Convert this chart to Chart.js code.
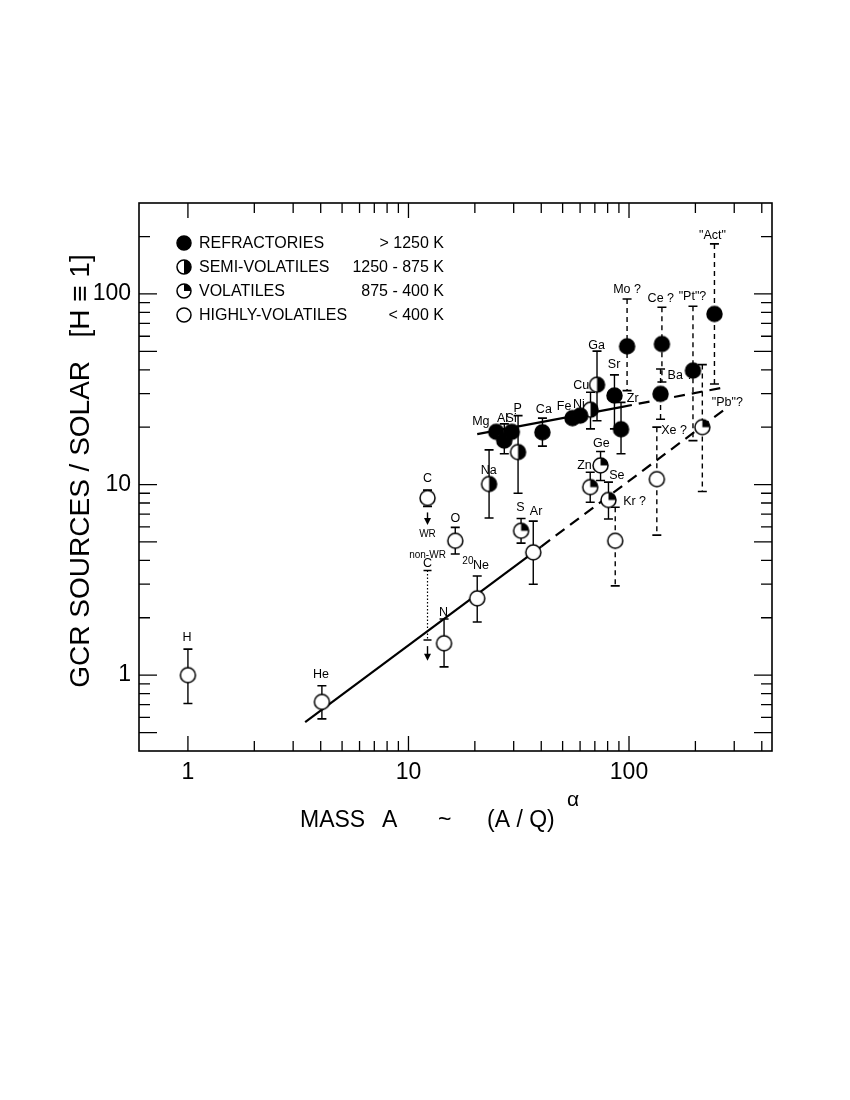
<!DOCTYPE html>
<html lang="en">
<head>
<meta charset="UTF-8">
<title>GCR sources / solar</title>
<script src="https://cdn.jsdelivr.net/npm/chart.js"></script>
<style>
  html, body { margin: 0; padding: 0; background: #fff; }
  #wrap { position: relative; width: 850px; height: 1100px; }
</style>
</head>
<body>
<div id="wrap"><canvas id="gcr" width="850" height="1100"></canvas></div>
<script>
// refractories  (> 1250 K)
const refNames = ['Mg', 'Al', 'Si', 'Ca', 'Fe', 'Ni', 'Sr', 'Zr', 'Mo', 'Ba', 'Ce', 'Pt', 'Act'];
const refA     = [25.0, 27.2, 29.4, 40.5, 55.4, 60.1, 85.9, 92, 98, 139, 141, 195, 244];
const refVal   = [18.9, 17.0, 18.9, 18.8, 22.3, 23.0, 29.3, 19.5, 53.1, 29.9, 54.6, 39.6, 78.5];
const refHi    = [null, 20.8, null, 22.3, null, null, 37.6, 27.0, 94.1, 40.4, 85.1, 86.2, 183];
const refLo    = [null, 14.5, null, 15.9, null, null, 19.6, 14.5, 31.1, 22.0, 34.5, 17.0, 33.7];

// semi-volatiles  (1250 - 875 K)
const semiNames = ['Na', 'P', 'Cu', 'Ga'];
const semiA     = [23.2, 31.4, 66.9, 71.6];
const semiVal   = [10.06, 14.8, 24.7, 33.4];
const semiHi    = [15.2, 23.0, 30.5, 50.1];
const semiLo    = [6.67, 9.0, 19.6, 21.6];

// volatiles  (875 - 400 K)
const volNames = ['S', 'Zn', 'Ge', 'Se', 'Pb'];
const volA     = [32.4, 66.7, 74.3, 80.7, 215];
const volVal   = [5.72, 9.7, 12.6, 8.3, 20.0];
const volHi    = [6.64, 11.6, 14.9, 10.3, 42.6];
const volLo    = [4.93, 8.07, 10.5, 6.6, 9.2];

// highly-volatiles  (< 400 K)
const hvNames = ['H', 'He', 'C', 'N', 'O', 'Ne', 'Ar', 'Kr', 'Xe'];
const hvA     = [1, 4.05, 12.2, 14.5, 16.3, 20.5, 36.8, 86.6, 133.7];
const hvVal   = [1, 0.724, 8.5, 1.47, 5.07, 2.53, 4.41, 5.07, 10.67];
const hvHi    = [1.37, 0.88, 9.35, 1.97, 5.96, 3.31, 6.43, 7.6, 20.0];
const hvLo    = [0.71, 0.59, 7.68, 1.105, 4.32, 1.90, 3.0, 2.94, 5.43];

// poorly known ones get dashed bars
const uncertain = ['Mo', 'Ba', 'Ce', 'Pt', 'Act', 'Kr', 'Xe', 'Pb'];

// carbon: WR arrow and the non-WR upper limit
const cA = 12.2;
const wrArrow = [7.14, 6.13];
const nonWrLimit = [3.54, 1.53];
const nonWrArrow = [1.42, 1.19];

// fitted lines (solid part, then dashed extrapolation)
const refFitA   = [20.5, 92, 273];
const refFitVal = [18.4, 25.5, 32.4];
const volFitA   = [3.4, 40, 273];
const volFitVal = [0.567, 4.73, 24.9];

// element tags [text, A, value]
const tags = [
  ['H', 0.99, 1.58], ['He', 4.01, 1.01], ['C', 12.2, 10.7], ['C', 12.2, 3.83],
  ['O', 16.3, 6.67], ['N', 14.4, 2.14], ['Ne', 21.3, 3.74], ['S', 32.2, 7.54],
  ['Ar', 37.9, 7.18], ['Na', 23.1, 11.8], ['Mg', 21.3, 21.5], ['Al', 26.7, 22.3],
  ['Si', 29.2, 22.3], ['P', 31.3, 24.9], ['Ca', 41.1, 24.6], ['Fe', 50.8, 25.8],
  ['Ni', 59.3, 26.4], ['Cu', 60.7, 33.2], ['Ga', 71.3, 53.8], ['Sr', 85.6, 42.4],
  ['Zr', 104, 28.1], ['Mo ?', 98, 106], ['Ce ?', 139.4, 94.6], ['"Pt"?', 194, 96.7],
  ['"Act"', 239, 202], ['Ba ?', 171, 37.1], ['"Pb"?', 279, 26.8], ['Xe ?', 160, 19.1],
  ['Ge', 75, 16.5], ['Zn', 62.8, 12.6], ['Se', 88.1, 11.2], ['Kr ?', 106, 8.1]
];
const smallTags = [['20', 18.6, 3.97], ['WR', 12.2, 5.5], ['non-WR', 12.2, 4.26]];

const legendRows = [
  ['ref', 'REFRACTORIES', '> 1250 K'],
  ['semi', 'SEMI-VOLATILES', '1250 - 875 K'],
  ['vol', 'VOLATILES', '875 - 400 K'],
  ['hv', 'HIGHLY-VOLATILES', '< 400 K']
];

const FONT = '"Liberation Sans", Arial, Helvetica, sans-serif';

function drawMarker(g, kind, cx, cy, r) {
  g.save();
  g.lineWidth = 1.5;
  g.strokeStyle = '#000';
  g.fillStyle = '#fff';
  g.beginPath(); g.arc(cx, cy, r, 0, 2 * Math.PI); g.fill();
  g.fillStyle = '#000';
  if (kind === 'ref') {
    g.beginPath(); g.arc(cx, cy, r, 0, 2 * Math.PI); g.fill();
  } else if (kind === 'semi') {
    g.beginPath(); g.moveTo(cx, cy - r); g.arc(cx, cy, r, -Math.PI / 2, Math.PI / 2); g.closePath(); g.fill();
  } else if (kind === 'vol') {
    g.beginPath(); g.moveTo(cx, cy); g.arc(cx, cy, r, -Math.PI / 2, 0); g.closePath(); g.fill();
  }
  g.beginPath(); g.arc(cx, cy, r, 0, 2 * Math.PI); g.stroke();
  g.restore();
}

function markerCanvas(kind, r) {
  const c = document.createElement('canvas');
  const s = Math.ceil(2 * r + 4);
  c.width = s; c.height = s;
  drawMarker(c.getContext('2d'), kind, s / 2, s / 2, r);
  return c;
}

function pts(a, v) { return a.map((x, i) => ({ x: x, y: v[i] })); }

const R = 7.5;

function pointSet(label, a, v, kind) {
  return {
    label: label, data: pts(a, v), showLine: false,
    pointStyle: markerCanvas(kind, R), pointRadius: R, order: 1
  };
}

function fitSet(a, v) {
  return {
    data: pts(a, v), showLine: true, pointRadius: 0, borderColor: '#000',
    borderWidth: 2.2, order: 10,
    segment: { borderDash: ctx => ctx.p0DataIndex >= 1 ? [11, 7] : undefined }
  };
}

function drawBars(g, xs, ys, names, a, hi, lo) {
  for (let i = 0; i < a.length; i++) {
    if (hi[i] == null) continue;
    const px = xs.getPixelForValue(a[i]);
    const top = ys.getPixelForValue(hi[i]);
    const bot = ys.getPixelForValue(lo[i]);
    g.save();
    g.strokeStyle = '#000';
    g.lineWidth = 1.4;
    if (uncertain.includes(names[i])) g.setLineDash([5, 4]);
    g.beginPath(); g.moveTo(px, top); g.lineTo(px, bot); g.stroke();
    g.setLineDash([]);
    g.lineWidth = 1.6;
    g.beginPath();
    g.moveTo(px - 4.5, top); g.lineTo(px + 4.5, top);
    g.moveTo(px - 4.5, bot); g.lineTo(px + 4.5, bot);
    g.stroke();
    g.restore();
  }
}

function arrow(g, px, y0, y1) {
  g.beginPath(); g.moveTo(px, y0); g.lineTo(px, y1 - 6); g.stroke();
  g.beginPath(); g.moveTo(px - 3.5, y1 - 7); g.lineTo(px + 3.5, y1 - 7); g.lineTo(px, y1); g.closePath(); g.fill();
}

const errorBars = {
  id: 'errorBars',
  beforeDatasetsDraw(chart) {
    const g = chart.ctx, xs = chart.scales.x, ys = chart.scales.y;
    drawBars(g, xs, ys, refNames, refA, refHi, refLo);
    drawBars(g, xs, ys, semiNames, semiA, semiHi, semiLo);
    drawBars(g, xs, ys, volNames, volA, volHi, volLo);
    drawBars(g, xs, ys, hvNames, hvA, hvHi, hvLo);
    // non-WR carbon limit, dotted
    const px = xs.getPixelForValue(cA);
    g.save();
    g.strokeStyle = '#000'; g.fillStyle = '#000';
    g.lineWidth = 1.2;
    g.setLineDash([1.5, 2]);
    g.beginPath();
    g.moveTo(px, ys.getPixelForValue(nonWrLimit[0]));
    g.lineTo(px, ys.getPixelForValue(nonWrLimit[1]));
    g.stroke();
    g.setLineDash([]);
    g.lineWidth = 1.6;
    g.beginPath();
    [nonWrLimit[0], nonWrLimit[1]].forEach(v => {
      const py = ys.getPixelForValue(v);
      g.moveTo(px - 4, py); g.lineTo(px + 4, py);
    });
    g.stroke();
    g.lineWidth = 1.4;
    arrow(g, px, ys.getPixelForValue(wrArrow[0]), ys.getPixelForValue(wrArrow[1]));
    arrow(g, px, ys.getPixelForValue(nonWrArrow[0]), ys.getPixelForValue(nonWrArrow[1]));
    g.restore();
  }
};

const xMinor = [1, 2, 3, 4, 5, 6, 7, 8, 9, 10, 20, 30, 40, 50, 60, 70, 80, 90, 100, 200, 300, 400];
const yMinor = [0.5, 0.6, 0.7, 0.8, 0.9, 1, 2, 3, 4, 5, 6, 7, 8, 9, 10, 20, 30, 40, 50, 60, 70, 80, 90, 100, 200];
const isDecade = v => Math.abs(Math.log10(v) - Math.round(Math.log10(v))) < 1e-9;

const decor = {
  id: 'decor',
  afterDraw(chart) {
    const g = chart.ctx, xs = chart.scales.x, ys = chart.scales.y, a = chart.chartArea;
    g.save();
    g.strokeStyle = '#000'; g.fillStyle = '#000';

    // element tags
    g.textAlign = 'center'; g.textBaseline = 'middle';
    g.font = '12.5px ' + FONT;
    tags.forEach(t => g.fillText(t[0], xs.getPixelForValue(t[1]), ys.getPixelForValue(t[2])));
    g.font = '10px ' + FONT;
    smallTags.forEach(t => g.fillText(t[0], xs.getPixelForValue(t[1]), ys.getPixelForValue(t[2])));

    // frame and inward ticks on all four sides
    g.lineWidth = 1.6;
    g.strokeRect(a.left, a.top, a.right - a.left, a.bottom - a.top);
    g.lineWidth = 1.3;
    g.beginPath();
    xMinor.forEach(v => {
      const px = xs.getPixelForValue(v);
      const len = isDecade(v) ? 15 : 10;
      g.moveTo(px, a.bottom); g.lineTo(px, a.bottom - len);
      g.moveTo(px, a.top); g.lineTo(px, a.top + len);
    });
    yMinor.forEach(v => {
      const py = ys.getPixelForValue(v);
      const big = isDecade(v) || isDecade(v * 2);
      const len = big ? 18 : 11;
      g.moveTo(a.left, py); g.lineTo(a.left + len, py);
      g.moveTo(a.right, py); g.lineTo(a.right - len, py);
    });
    g.stroke();

    // legend
    legendRows.forEach((row, i) => {
      const cy = 243 + i * 24;
      drawMarker(g, row[0], 184, cy, 7);
      g.font = '16px ' + FONT;
      g.textBaseline = 'middle';
      g.textAlign = 'left';
      g.fillText(row[1], 199, cy + 0.5);
      g.textAlign = 'right';
      g.fillText(row[2], 444, cy + 0.5);
    });

    // axis titles
    g.font = '23px ' + FONT;
    g.textBaseline = 'alphabetic';
    g.textAlign = 'left';
    g.fillText('MASS', 300, 827);
    g.fillText('A', 382, 827);
    g.fillText('~', 438, 827);
    g.fillText('(A / Q)', 487, 827);
    g.font = '21px ' + FONT;
    g.fillText('\u03b1', 567, 806);

    g.translate(89, 471);
    g.rotate(-Math.PI / 2);
    g.textAlign = 'center';
    g.font = '28px ' + FONT;
    g.fillText('GCR SOURCES / SOLAR   [H \u2261 1]', 0, 0);
    g.restore();
  }
};

const chart = new Chart(document.getElementById('gcr'), {
  type: 'scatter',
  data: {
    datasets: [
      pointSet('refractories', refA, refVal, 'ref'),
      pointSet('semi-volatiles', semiA, semiVal, 'semi'),
      pointSet('volatiles', volA, volVal, 'vol'),
      pointSet('highly-volatiles', hvA, hvVal, 'hv'),
      fitSet(refFitA, refFitVal),
      fitSet(volFitA, volFitVal)
    ]
  },
  options: {
    responsive: false,
    animation: false,
    layout: { padding: { left: 0, top: 203, right: 78, bottom: 303 } },
    plugins: { legend: { display: false }, tooltip: { enabled: false } },
    scales: {
      x: {
        type: 'logarithmic', min: 0.629, max: 445,
        grid: { display: false }, border: { display: false },
        afterBuildTicks: s => { s.ticks = [1, 10, 100].map(v => ({ value: v })); },
        afterFit: s => { s.height = 46; },
        ticks: { color: '#000', padding: 0, maxRotation: 0, autoSkip: false,
                 font: { family: FONT, size: 23 }, callback: v => String(v) }
      },
      y: {
        type: 'logarithmic', min: 0.4, max: 300,
        grid: { display: false }, border: { display: false },
        afterBuildTicks: s => { s.ticks = [1, 10, 100].map(v => ({ value: v })); },
        afterFit: s => { s.width = 139; },
        ticks: { color: '#000', padding: 0, font: { family: FONT, size: 23 },
                 callback: v => String(v) }
      }
    }
  },
  plugins: [errorBars, decor]
});
</script>
</body>
</html>
